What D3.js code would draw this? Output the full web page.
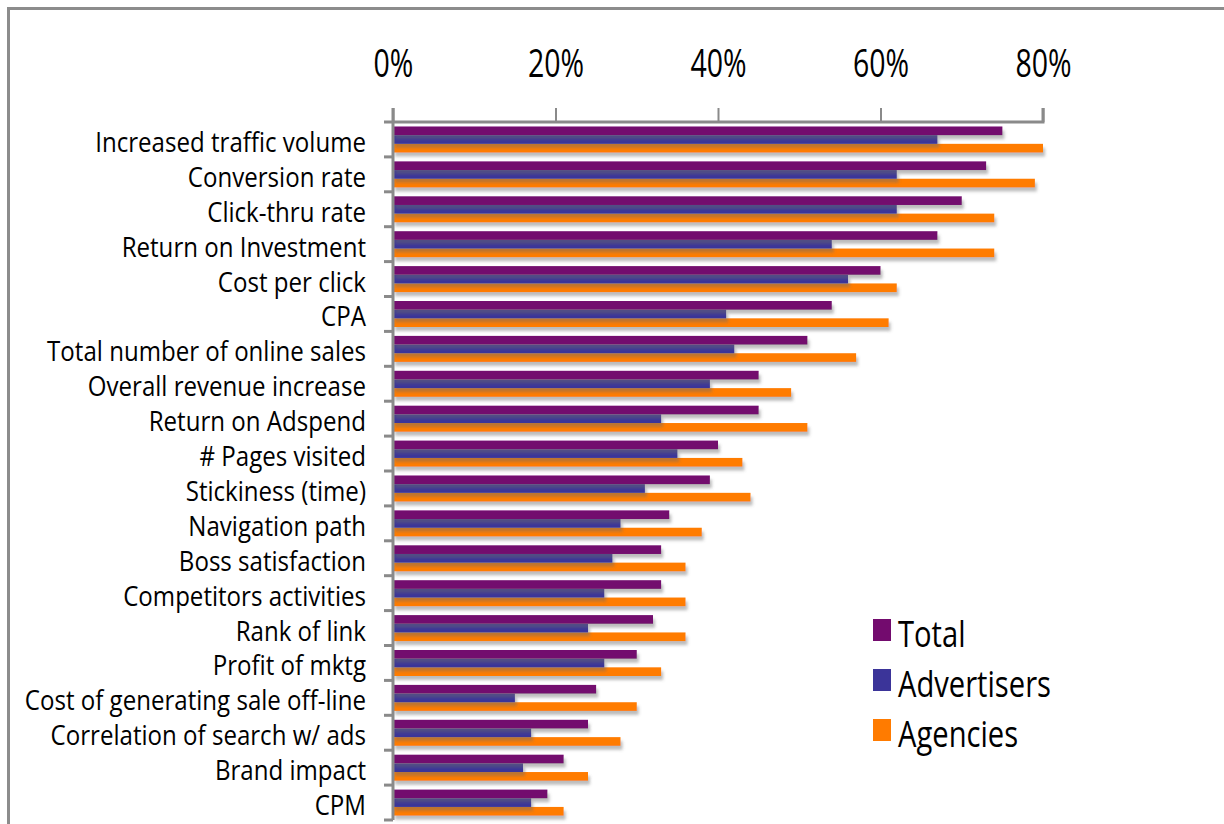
<!DOCTYPE html>
<html>
<head>
<meta charset="utf-8">
<script src="https://cdn.jsdelivr.net/npm/d3@7"></script>
<style>
  html, body { margin: 0; padding: 0; background: #fff; }
  svg { display: block; }
  text { font-family: "Open Sans", "Noto Sans", sans-serif; fill: #000; }
</style>
</head>
<body>
<svg id="chart" width="1224" height="824"></svg>
<script>
const categories = [
  "Increased traffic volume", "Conversion rate", "Click-thru rate", "Return on Investment",
  "Cost per click", "CPA", "Total number of online sales", "Overall revenue increase",
  "Return on Adspend", "# Pages visited", "Stickiness (time)", "Navigation path",
  "Boss satisfaction", "Competitors activities", "Rank of link", "Profit of mktg",
  "Cost of generating sale off-line", "Correlation of search w/ ads", "Brand impact", "CPM"
];
const seriesNames = ["Total", "Advertisers", "Agencies"];
const totalValues =       [75, 73, 70, 67, 60, 54, 51, 45, 45, 40, 39, 34, 33, 33, 32, 30, 25, 24, 21, 19];
const advertiserValues =  [67, 62, 62, 54, 56, 41, 42, 39, 33, 35, 31, 28, 27, 26, 24, 26, 15, 17, 16, 17];
const agencyValues =      [80, 79, 74, 74, 62, 61, 57, 49, 51, 43, 44, 38, 36, 36, 36, 33, 30, 28, 24, 21];
const tickValues = [0, 20, 40, 60, 80];
const seriesColors = ["#730B6E", "#3B3499", "#FF7B00"];

const valuesBySeries = [totalValues, advertiserValues, agencyValues];

const svg = d3.select("#chart");

const defs = svg.append("defs");
const f = defs.append("filter").attr("id", "shadow")
  .attr("x", "-5%").attr("y", "-50%").attr("width", "110%").attr("height", "250%");
f.append("feDropShadow").attr("dx", 2).attr("dy", 4).attr("stdDeviation", 1.6)
  .attr("flood-color", "#6a6a6a").attr("flood-opacity", 0.45);

svg.append("rect").attr("x", 8.5).attr("y", 8.5).attr("width", 1400).attr("height", 1000)
  .attr("fill", "none").attr("stroke", "#8c8c8c").attr("stroke-width", 3);

const mLeft = 393, mRight = 1043, mTop = 122, mBottom = 820;

const x = d3.scaleLinear().domain([0, 80]).range([mLeft, mRight]);
const y = d3.scaleBand().domain(categories).range([mTop, mBottom]).padding(0);
const ySub = d3.scaleBand().domain(seriesNames).range([4.5, 30.5]).padding(0);

const barG = svg.append("g");
for (let s = seriesNames.length - 1; s >= 0; s--) {
  barG.append("g")
    .selectAll("rect")
    .data(categories.map((c, i) => ({ c, v: valuesBySeries[s][i] })))
    .join("rect")
    .attr("x", x(0))
    .attr("y", d => y(d.c) + ySub(seriesNames[s]))
    .attr("width", d => x(d.v) - x(0))
    .attr("height", ySub.bandwidth())
    .attr("fill", seriesColors[s])
    .attr("filter", "url(#shadow)");
}

const axisG = svg.append("g").attr("transform", `translate(0,${mTop})`);
axisG.call(d3.axisTop(x).tickValues(tickValues).tickSize(14).tickSizeOuter(14).tickFormat(d => d + "%"));
axisG.select(".domain").attr("stroke", "#8a8a8a").attr("stroke-width", 3)
  .attr("d", `M${mLeft - 9},0H${mRight}V-14`);
axisG.selectAll(".tick line").attr("stroke", "#8a8a8a").attr("stroke-width", 2);
axisG.selectAll(".tick text").remove();
axisG.selectAll(".tick").append("g")
  .attr("transform", "translate(0,-45) scale(0.75,1)")
  .append("text")
  .attr("text-anchor", "middle")
  .attr("font-size", 38)
  .text(d => d + "%");

const yAxisG = svg.append("g").attr("transform", `translate(${mLeft},0)`);
yAxisG.append("line").attr("x1", 0).attr("x2", 0).attr("y1", mTop - 14).attr("y2", mBottom)
  .attr("stroke", "#8a8a8a").attr("stroke-width", 3);
const boundaries = categories.map(c => y(c) + y.bandwidth());
yAxisG.selectAll("line.ct").data(boundaries).join("line").attr("class", "ct")
  .attr("x1", -9).attr("x2", 0).attr("y1", d => d).attr("y2", d => d)
  .attr("stroke", "#8a8a8a").attr("stroke-width", 3);

svg.append("g").selectAll("g").data(categories).join("g")
  .attr("transform", d => `translate(366,${y(d) + y.bandwidth() / 2 + 12.5}) scale(0.86,1)`)
  .append("text")
  .attr("text-anchor", "end")
  .attr("font-size", 28)
  .text(d => d);

const legend = svg.append("g").selectAll("g").data(seriesNames).join("g")
  .attr("transform", (d, i) => `translate(873,${619 + i * 50})`);
legend.append("rect").attr("width", 18).attr("height", 22).attr("fill", (d, i) => seriesColors[i]);
legend.append("g").attr("transform", "translate(25,28) scale(0.81,1)")
  .append("text").attr("font-size", 36).text(d => d);
</script>
</body>
</html>
